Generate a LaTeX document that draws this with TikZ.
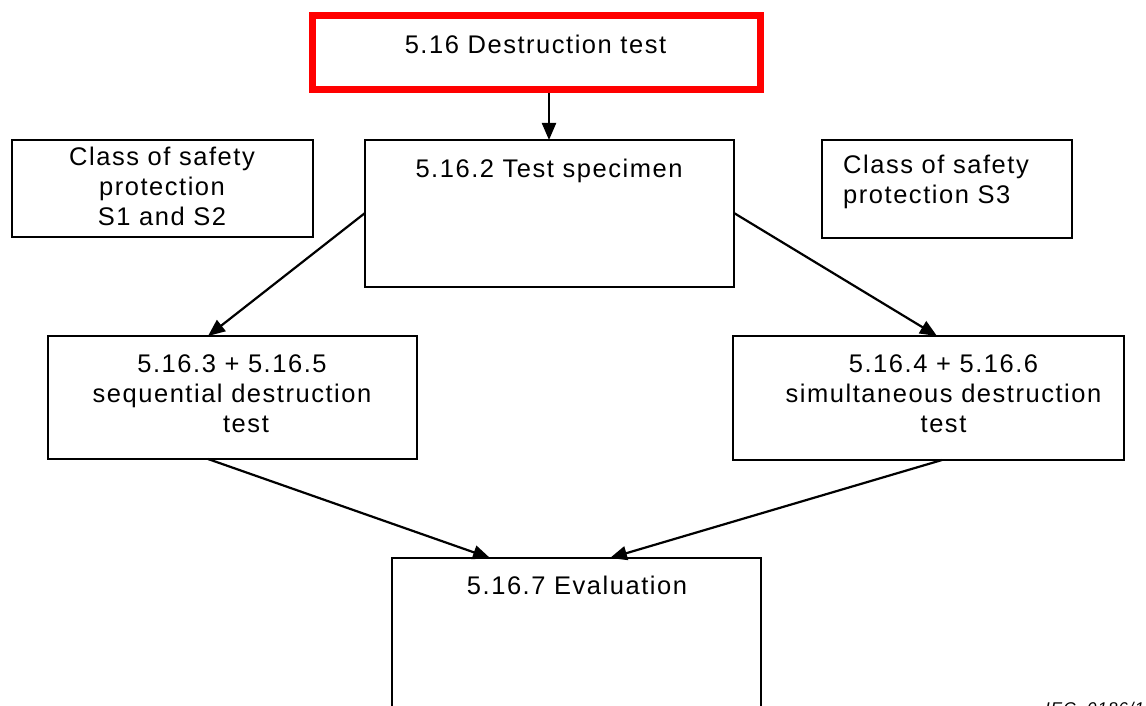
\documentclass[tikz,border=0pt]{standalone}
\usepackage{fontspec}
\setmainfont{Liberation Sans}[LetterSpace=6]
\usetikzlibrary{arrows.meta,calc}
\begin{document}
\begin{tikzpicture}[x=1pt,y=-1pt,
  box/.style={draw=black, line width=2.2pt, rectangle, inner sep=0pt, outer sep=0pt, anchor=north west},
  txt/.style={anchor=base, inner sep=0pt, font=\fontsize{25.5pt}{30pt}\selectfont},
  ltxt/.style={txt, anchor=base west},
  arr/.style={draw=black, line width=2.2pt, -{Triangle[length=17pt,width=14pt]}},
]
\clip (0,0) rectangle (1146,706);
\fill[white] (0,0) rectangle (1146,706);

% boxes
\node[box, draw=red, line width=7pt, minimum width=448.5pt, minimum height=73.3pt] (top) at (312,16) {};
\node[box, minimum width=369pt, minimum height=147pt] (spec) at (365,140) {};
\node[box, minimum width=301pt, minimum height=97pt] (lclass) at (12,140) {};
\node[box, minimum width=250pt, minimum height=98pt] (rclass) at (822,140) {};
\node[box, minimum width=369pt, minimum height=123pt] (lbox) at (48,336) {};
\node[box, minimum width=391pt, minimum height=124pt] (rbox) at (733,336) {};
\node[box, minimum width=369pt, minimum height=200pt] (eval) at (392,558) {};

% texts
\node[txt] (toptxt) at (535.5,54) {5.16 Destruction test};
\node[txt] (spectxt) at (549,178) {5.16.2 Test specimen};
\node[txt] (lc1) at (162,166) {Class of safety};
\node[txt] (lc2) at (162,195) {protection};
\node[txt] (lc3) at (162,225) {S1 and S2};
\node[ltxt] (rc1) at (843,174) {Class of safety};
\node[ltxt] (rc2) at (843,203) {protection S3};
\node[txt] (lb1) at (232,372) {5.16.3 + 5.16.5};
\node[txt] (lb2) at (232,402) {sequential destruction};
\node[txt] (lb3) at (246,432) {test};
\node[txt] (rb1) at (943.5,372) {5.16.4 + 5.16.6};
\node[txt] (rb2) at (943.5,402) {simultaneous destruction};
\node[txt] (rb3) at (943.5,432) {test};
\node[txt] (evtxt) at (577,594) {5.16.7 Evaluation};
\node[anchor=base west, inner sep=0pt, font=\fontsize{17pt}{20pt}\selectfont\itshape] (iec) at (1045,714) {IEC\ \ 0186/1};

% connectors
\draw[arr] ($(top.south west)+(237,3.5)$) -- ($(spec.north west)+(184,0)$);
\draw[arr] ($(spec.north west)+(0,73)$) -- ($(lbox.north west)+(160,0)$);
\draw[arr] ($(spec.north east)+(0,73)$) -- ($(rbox.north west)+(204,0)$);
\draw[arr] ($(lbox.south west)+(160,0)$) -- ($(eval.north west)+(98,0)$);
\draw[arr] ($(rbox.south west)+(209,0)$) -- ($(eval.north west)+(218,0)$);
\end{tikzpicture}
\end{document}
